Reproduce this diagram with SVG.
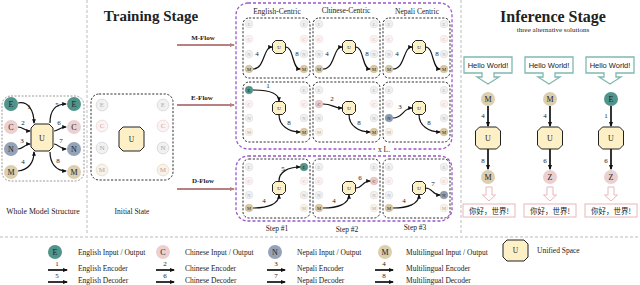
<svg xmlns="http://www.w3.org/2000/svg" width="640" height="285" viewBox="0 0 640 285">
<style>
text{font-family:"Liberation Serif","DejaVu Serif",serif;fill:#222}
.m{text-anchor:middle}
.sep{stroke:#bbb;stroke-width:1;stroke-dasharray:3 2;fill:none}
.gb{fill:none;stroke:#999;stroke-width:1;stroke-dasharray:2 1.5}
.box{fill:none;stroke:#333;stroke-width:1;stroke-dasharray:2.2 1.6}
.pb{fill:none;stroke:#9a55cc;stroke-width:1.3;stroke-dasharray:3 2}
.u{fill:#fdf0c6;stroke:#222;stroke-width:1}
.e{fill:none;stroke:#111;stroke-width:1.2;marker-end:url(#ah)}
.eb{fill:none;stroke:#111;stroke-width:1.7;marker-end:url(#ab)}
.fl{stroke:#b88080;stroke-width:2;marker-end:url(#fh)}
.n{font-size:7px}
.s{font-size:4.6px}
.lg{font-size:7.5px}
.hw{font-family:"Liberation Sans",Arial,sans-serif;font-size:7.5px}
.cj{font-family:"Noto Sans CJK SC",sans-serif;font-size:7.5px}
</style>
<defs>
<marker id="ah" viewBox="0 0 10 10" refX="8" refY="5" markerWidth="4.8" markerHeight="4.8" markerUnits="userSpaceOnUse" orient="auto"><path d="M0,1 L10,5 L0,9 z" fill="#111"/></marker>
<marker id="ab" viewBox="0 0 10 10" refX="8" refY="5" markerWidth="5.5" markerHeight="5.5" markerUnits="userSpaceOnUse" orient="auto"><path d="M0,1 L10,5 L0,9 z" fill="#111"/></marker>
<marker id="fh" viewBox="0 0 10 10" refX="8" refY="5" markerWidth="5" markerHeight="5" markerUnits="userSpaceOnUse" orient="auto"><path d="M0,1 L10,5 L0,9 z" fill="#b88080"/></marker>
<g id="fE"><circle r="3.8" fill="#f1f1f1" stroke="#d9d9d9" stroke-width="0.6"/><text class="m s" y="1.6" style="fill:#b0b0b0">E</text></g>
<g id="fC"><circle r="3.8" fill="#fbf3f3" stroke="#efdcdc" stroke-width="0.6"/><text class="m s" y="1.6" style="fill:#d4a0a0">C</text></g>
<g id="fN"><circle r="3.8" fill="#f1f1f1" stroke="#d9d9d9" stroke-width="0.6"/><text class="m s" y="1.6" style="fill:#a8a8a8">N</text></g>
<g id="fM"><circle r="3.8" fill="#f8f3ea" stroke="#eadfcc" stroke-width="0.6"/><text class="m s" y="1.6" style="fill:#c4a090">M</text></g>
<g id="aE"><circle r="3.8" fill="#4f958b" stroke="#3e7d74" stroke-width="0.5"/><text class="m s" y="1.6">E</text></g>
<g id="aC"><circle r="3.8" fill="#ecc9c9" stroke="#d5a8a8" stroke-width="0.5"/><text class="m s" y="1.6">C</text></g>
<g id="aN"><circle r="3.8" fill="#8e9db4" stroke="#76869e" stroke-width="0.5"/><text class="m s" y="1.6">N</text></g>
<g id="aM"><circle r="3.8" fill="#d8c8a3" stroke="#c2b08a" stroke-width="0.5"/><text class="m s" y="1.6">M</text></g>
<g id="gE"><circle r="7" fill="#4f958b"/><text class="m" font-size="8" y="2.8">E</text></g>
<g id="gC"><circle r="7" fill="#ecd0d0"/><text class="m" font-size="8" y="2.8">C</text></g>
<g id="gN"><circle r="7" fill="#95a3b8"/><text class="m" font-size="8" y="2.8">N</text></g>
<g id="gM"><circle r="7" fill="#dccfae"/><text class="m" font-size="8" y="2.8">M</text></g>
<g id="gZ"><circle r="7" fill="#ecd0d0"/><text class="m" font-size="8" y="2.8">Z</text></g>
<g id="us"><polygon class="u" stroke-width="0.8" points="-3.5,-6.5 3.5,-6.5 6.5,-3.5 6.5,3.5 3.5,6.5 -3.5,6.5 -6.5,3.5 -6.5,-3.5"/><text class="m" y="1.8" font-size="5">U</text></g>
<g id="ub"><polygon class="u" points="-8.5,-11 8.5,-11 12.5,-7 12.5,7 8.5,11 -8.5,11 -12.5,7 -12.5,-7"/><text class="m" y="2.8" font-size="8">U</text></g>
<g id="bubble"><path d="M-24,57 H24 V73 H6 V77 H11 L0,84 L-11,77 H-6 V73 H-24 Z" fill="#fff" stroke="#80b8b0" stroke-width="1.3"/><text class="m hw" y="68">Hello World!</text></g>
<g id="out"><path d="M-3,187 H3 V195 H6.5 L0,201 L-6.5,195 H-3 Z" fill="#fff" stroke="#e8b8b8" stroke-width="1"/><rect x="-26" y="204" width="52" height="13" fill="#fff" stroke="#e8b8b8" stroke-width="1"/><text class="m cj" y="213.5">你好，世界!</text></g>
</defs>
<rect width="640" height="285" fill="#fff"/>
<g id="separators">
<line class="sep" x1="87" y1="0" x2="87" y2="235"/>
<line class="sep" x1="461" y1="0" x2="461" y2="235"/>
<line class="sep" x1="0" y1="237" x2="640" y2="237"/>
</g>

<g id="whole-model">
<rect class="gb" x="2" y="96" width="82" height="85" rx="9"/>
<use href="#gE" x="11" y="104"/><use href="#gC" x="11" y="127"/><use href="#gN" x="11" y="149"/><use href="#gM" x="11" y="172"/>
<use href="#gE" x="74" y="104"/><use href="#gC" x="74" y="127"/><use href="#gN" x="74" y="149"/><use href="#gM" x="74" y="172"/>
<polygon class="u" points="35,124 49,124 53,128 53,147 49,151 35,151 31,147 31,128"/>
<text class="m" x="42" y="140.5" font-size="8">U</text>
<path class="e" d="M18,103 C28,101 34,110 34,123"/>
<path class="e" d="M18,127 C23,127 25,131 30,131"/>
<path class="e" d="M18,149 C23,149 25,144 30,144"/>
<path class="e" d="M18,171 C28,170 34,163 34,152"/>
<path class="e" d="M50,123 C50,111 55,104 66,104"/>
<path class="e" d="M54,131 C58,131 60,127 66,127"/>
<path class="e" d="M54,144 C58,144 60,149 66,149"/>
<path class="e" d="M50,152 C50,163 56,171 66,171"/>
<text class="m n" x="29" y="109">1</text><text class="m n" x="23" y="125">2</text><text class="m n" x="22" y="143">3</text><text class="m n" x="23" y="164">4</text>
<text class="m n" x="57" y="107">5</text><text class="m n" x="59" y="125">6</text><text class="m n" x="61" y="143">7</text><text class="m n" x="58" y="163">8</text>
<text class="m" x="43" y="213.5" font-size="7.8">Whole Model Structure</text>
</g>

<text class="m" x="151" y="21" font-size="15" font-weight="bold">Training Stage</text>

<g id="initial-state">
<rect class="box" x="91" y="94" width="82" height="86" rx="8"/>
<use href="#fE" transform="translate(102,105) scale(1.55)"/><use href="#fC" transform="translate(102,126) scale(1.55)"/><use href="#fN" transform="translate(102,148) scale(1.55)"/><use href="#fM" transform="translate(102,170) scale(1.55)"/>
<use href="#fE" transform="translate(163,105) scale(1.55)"/><use href="#fC" transform="translate(163,126) scale(1.55)"/><use href="#fN" transform="translate(163,148) scale(1.55)"/><use href="#fM" transform="translate(163,170) scale(1.55)"/>
<polygon class="u" points="123,127 140,127 144,131 144,147 140,151 123,151 119,147 119,131"/>
<text class="m" x="131.5" y="142" font-size="7.5">U</text>
<text class="m" x="132" y="213.5" font-size="7.5">Initial State</text>
</g>

<g id="flows">
<line class="fl" x1="177" y1="45" x2="234" y2="45"/><text class="m" x="203" y="40" font-size="7" font-weight="bold">M-Flow</text>
<line class="fl" x1="177" y1="105" x2="234" y2="105"/><text class="m" x="202" y="100" font-size="7" font-weight="bold">E-Flow</text>
<line class="fl" x1="177" y1="189" x2="234" y2="189"/><text class="m" x="203" y="183" font-size="7" font-weight="bold">D-Flow</text>
</g>

<g id="groups">
<rect class="pb" x="236" y="3" width="216" height="146" rx="12"/>
<rect x="375" y="145" width="19" height="8" fill="#fff"/>
<text class="m" x="384" y="152" font-size="7.5">x L.</text>
<rect class="pb" x="236" y="156" width="216" height="65" rx="12"/>
<text class="m" x="277" y="14" font-size="7.5">English-Centric</text>
<text class="m" x="346" y="13" font-size="7.5">Chinese-Centric</text>
<text class="m" x="417" y="14" font-size="7.5">Nepali Centric</text>
<text class="m" x="277" y="231" font-size="7.5">Step #1</text>
<text class="m" x="347" y="232" font-size="7.5">Step #2</text>
<text class="m" x="415" y="230" font-size="7.5">Step #3</text>
</g>

<g id="m-en">
<rect class="box" x="243" y="18" width="67" height="60" rx="6"/>
<use href="#fE" x="249" y="24"/><use href="#fC" x="249" y="39"/><use href="#fN" x="249" y="54"/><use href="#aM" x="249" y="69"/>
<use href="#fE" x="304" y="24"/><use href="#fC" x="304" y="39"/><use href="#fN" x="304" y="54"/><use href="#aM" x="304" y="69"/>
<use href="#us" x="279" y="47"/>
</g>
<g id="m-zh">
<rect class="box" x="313" y="18" width="67" height="60" rx="6"/>
<use href="#fE" x="319" y="24"/><use href="#fC" x="319" y="39"/><use href="#fN" x="319" y="54"/><use href="#aM" x="319" y="69"/>
<use href="#fE" x="374" y="24"/><use href="#fC" x="374" y="39"/><use href="#fN" x="374" y="54"/><use href="#aM" x="374" y="69"/>
<use href="#us" x="349" y="47"/>
</g>
<g id="m-ne">
<rect class="box" x="383" y="18" width="67" height="60" rx="6"/>
<use href="#fE" x="389" y="24"/><use href="#fC" x="389" y="39"/><use href="#fN" x="389" y="54"/><use href="#aM" x="389" y="69"/>
<use href="#fE" x="444" y="24"/><use href="#fC" x="444" y="39"/><use href="#fN" x="444" y="54"/><use href="#aM" x="444" y="69"/>
<use href="#us" x="419" y="47"/>
</g>

<g id="e-1">
<rect class="box" x="243" y="82" width="67" height="60" rx="6"/>
<use href="#aE" x="249" y="90"/><use href="#fC" x="249" y="104"/><use href="#fN" x="249" y="118"/><use href="#fM" x="249" y="132"/>
<use href="#fE" x="304" y="90"/><use href="#fC" x="304" y="104"/><use href="#fN" x="304" y="118"/><use href="#aM" x="304" y="132"/>
<use href="#us" x="279" y="108"/>
</g>
<g id="e-2">
<rect class="box" x="313" y="82" width="67" height="60" rx="6"/>
<use href="#fE" x="319" y="90"/><use href="#aC" x="319" y="104"/><use href="#fN" x="319" y="118"/><use href="#fM" x="319" y="132"/>
<use href="#fE" x="374" y="90"/><use href="#fC" x="374" y="104"/><use href="#fN" x="374" y="118"/><use href="#aM" x="374" y="132"/>
<use href="#us" x="349" y="108"/>
</g>
<g id="e-3">
<rect class="box" x="383" y="82" width="67" height="60" rx="6"/>
<use href="#fE" x="389" y="90"/><use href="#fC" x="389" y="104"/><use href="#aN" x="389" y="118"/><use href="#fM" x="389" y="132"/>
<use href="#fE" x="444" y="90"/><use href="#fC" x="444" y="104"/><use href="#fN" x="444" y="118"/><use href="#aM" x="444" y="132"/>
<use href="#us" x="419" y="108"/>
</g>

<g id="d-1">
<rect class="box" x="243" y="159" width="67" height="59" rx="6"/>
<use href="#fE" x="249" y="167"/><use href="#fC" x="249" y="181"/><use href="#fN" x="249" y="195"/><use href="#aM" x="249" y="208"/>
<use href="#aE" x="304" y="167"/><use href="#fC" x="304" y="181"/><use href="#fN" x="304" y="195"/><use href="#fM" x="304" y="208"/>
<use href="#us" x="279" y="188"/>
</g>
<g id="d-2">
<rect class="box" x="313" y="159" width="67" height="59" rx="6"/>
<use href="#fE" x="319" y="167"/><use href="#fC" x="319" y="181"/><use href="#fN" x="319" y="195"/><use href="#aM" x="319" y="208"/>
<use href="#fE" x="374" y="167"/><use href="#aC" x="374" y="181"/><use href="#fN" x="374" y="195"/><use href="#fM" x="374" y="208"/>
<use href="#us" x="349" y="188"/>
</g>
<g id="d-3">
<rect class="box" x="383" y="159" width="67" height="59" rx="6"/>
<use href="#fE" x="389" y="167"/><use href="#fC" x="389" y="181"/><use href="#fN" x="389" y="195"/><use href="#aM" x="389" y="208"/>
<use href="#fE" x="444" y="167"/><use href="#fC" x="444" y="181"/><use href="#aN" x="444" y="195"/><use href="#fM" x="444" y="208"/>
<use href="#us" x="419" y="188"/>
</g>

<g id="connectors">
<path class="e" d="M253,69 C265,69 263,47 272,47"/><text class="m n" x="257" y="56">4</text>
<path class="e" d="M285.5,47 C294,47 292,69 300,69"/><text class="m n" x="297" y="56">8</text>
<path class="e" d="M323,69 C335,69 333,47 342,47"/><text class="m n" x="327" y="56">4</text>
<path class="e" d="M355.5,47 C364,47 362,69 370,69"/><text class="m n" x="367" y="56">8</text>
<path class="e" d="M393,69 C405,69 403,47 412,47"/><text class="m n" x="397" y="56">4</text>
<path class="e" d="M425.5,47 C434,47 432,69 440,69"/><text class="m n" x="437" y="56">8</text>

<path class="e" d="M253,90 C267,90 279,92 279,101"/><text class="m n" x="268" y="88">1</text>
<path class="e" d="M279,114.5 C279,126 289,132 300,132"/><text class="m n" x="289" y="125">8</text>
<path class="e" d="M323,104 C333,104 333,108 342,108"/><text class="m n" x="332" y="101">2</text>
<path class="e" d="M349,114.5 C349,126 359,132 370,132"/><text class="m n" x="359" y="125">8</text>
<path class="e" d="M393,118 C403,118 403,108 412,108"/><text class="m n" x="400" y="109">3</text>
<path class="e" d="M419,114.5 C419,126 429,132 440,132"/><text class="m n" x="429" y="125">8</text>

<path class="e" d="M253,208 C268,208 279,204 279,195"/><text class="m n" x="264" y="203">4</text>
<path class="e" d="M279,181 C279,172 288,167 300,167"/><text class="m n" x="283" y="171">5</text>
<path class="e" d="M323,208 C338,208 349,204 349,195"/><text class="m n" x="334" y="203">4</text>
<path class="e" d="M355.5,188 C363,188 362,181 370,181"/><text class="m n" x="360" y="180">6</text>
<path class="e" d="M393,208 C408,208 419,204 419,195"/><text class="m n" x="404" y="203">4</text>
<path class="e" d="M425.5,188 C433,188 432,195 440,195"/><text class="m n" x="433" y="186">7</text>
</g>

<text class="m" x="553" y="22" font-size="16" font-weight="bold">Inference Stage</text>
<text class="m" x="553" y="32" font-size="7">three alternative solutions</text>

<g id="inf-1">
<use href="#bubble" x="488" y="0"/>
<use href="#gM" x="488" y="99"/>
<path class="eb" d="M488,106 V126"/><text class="m n" x="483" y="118">4</text>
<use href="#ub" x="488" y="138"/>
<path class="eb" d="M488,149 V169"/><text class="m n" x="483" y="163">8</text>
<use href="#gM" x="488" y="177"/>
<use href="#out" x="489" y="0"/>
</g>
<g id="inf-2">
<use href="#bubble" x="549" y="0"/>
<use href="#gM" x="550" y="99"/>
<path class="eb" d="M550,106 V126"/><text class="m n" x="545" y="118">4</text>
<use href="#ub" x="550" y="138"/>
<path class="eb" d="M550,149 V169"/><text class="m n" x="545" y="163">6</text>
<use href="#gZ" x="550" y="177"/>
<use href="#out" x="550" y="0"/>
</g>
<g id="inf-3">
<use href="#bubble" x="610" y="0"/>
<use href="#gE" x="611" y="99"/>
<path class="eb" d="M611,106 V126"/><text class="m n" x="606" y="118">1</text>
<use href="#ub" x="611" y="138"/>
<path class="eb" d="M611,149 V169"/><text class="m n" x="606" y="163">6</text>
<use href="#gZ" x="611" y="177"/>
<use href="#out" x="611" y="0"/>
</g>

<g id="legend">
<use href="#gE" x="55" y="252"/><text class="lg" x="78" y="255">English Input / Output</text>
<path class="eb" d="M48,270 H67"/><text class="m n" x="57" y="266">1</text><text class="lg" x="78" y="271">English Encoder</text>
<path class="eb" d="M48,282 H67"/><text class="m n" x="57" y="278">5</text><text class="lg" x="78" y="283">English Decoder</text>

<use href="#gC" x="163" y="252"/><text class="lg" x="185" y="255">Chinese Input / Output</text>
<path class="eb" d="M156,270 H174"/><text class="m n" x="165" y="266">2</text><text class="lg" x="185" y="271">Chinese Encoder</text>
<path class="eb" d="M156,282 H174"/><text class="m n" x="165" y="278">6</text><text class="lg" x="185" y="283">Chinese Decoder</text>

<use href="#gN" x="275" y="252"/><text class="lg" x="297" y="255">Nepali Input / Output</text>
<path class="eb" d="M267,270 H285"/><text class="m n" x="276" y="266">3</text><text class="lg" x="297" y="271">Nepali Encoder</text>
<path class="eb" d="M267,282 H285"/><text class="m n" x="276" y="278">7</text><text class="lg" x="297" y="283">Nepali Decoder</text>

<use href="#gM" x="385" y="252"/><text class="lg" x="406" y="255">Multilingual Input / Output</text>
<path class="eb" d="M375,270 H393"/><text class="m n" x="384" y="266">4</text><text class="lg" x="406" y="271">Multilingual Encoder</text>
<path class="eb" d="M375,282 H393"/><text class="m n" x="384" y="278">8</text><text class="lg" x="406" y="283">Multilingual Decoder</text>

<polygon class="u" points="507,240 524,240 528,244 528,257 524,261 507,261 503,257 503,244"/>
<text class="m" x="515.5" y="253" font-size="7.5">U</text>
<text class="lg" x="537" y="253">Unified Space</text>
</g>
</svg>
